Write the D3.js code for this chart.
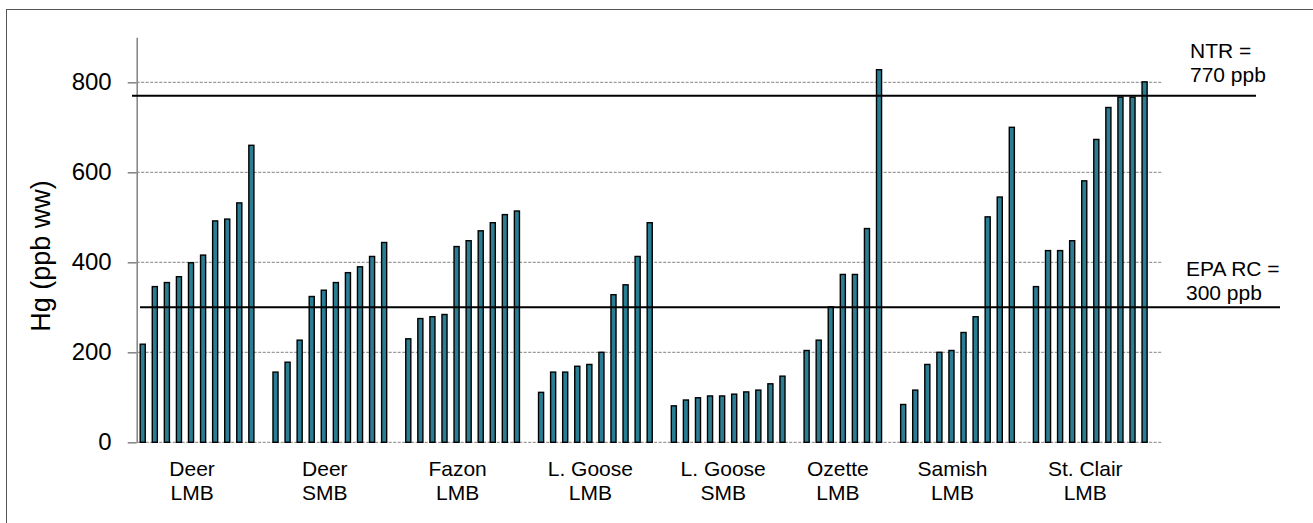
<!DOCTYPE html>
<html>
<head>
<meta charset="utf-8">
<script src="https://cdn.jsdelivr.net/npm/d3@7/dist/d3.min.js"></script>
<style>
  html, body { margin: 0; padding: 0; background: #fff; }
  svg { display: block; font-family: "Liberation Sans", Arial, sans-serif; }
</style>
</head>
<body>
<svg id="chart" width="1313" height="523"></svg>
<script>
// Mercury in fish tissue, one bar per fish, grouped by lake and species
const lakes   = ["Deer", "Deer", "Fazon", "L. Goose", "L. Goose", "Ozette", "Samish", "St. Clair"];
const species = ["LMB", "SMB", "LMB", "LMB", "SMB", "LMB", "LMB", "LMB"];

const deerLMB    = [218, 346, 355, 368, 399, 416, 492, 496, 532, 660];
const deerSMB    = [156, 178, 227, 324, 338, 355, 377, 390, 413, 444];
const fazonLMB   = [230, 275, 279, 284, 435, 448, 470, 488, 506, 514];
const lGooseLMB  = [111, 156, 156, 169, 173, 200, 328, 350, 413, 488];
const lGooseSMB  = [81, 94, 99, 103, 103, 107, 112, 116, 130, 147];
const ozetteLMB  = [204, 227, 301, 373, 373, 475, 828];
const samishLMB  = [84, 116, 173, 200, 204, 244, 279, 501, 545, 700];
const stClairLMB = [346, 426, 426, 448, 581, 673, 744, 767, 767, 801];

const yTicks = [0, 200, 400, 600, 800];
const yMax = 900;

// Reference levels
const ntr = 770;   // NTR
const epaRC = 300; // EPA RC
const ntrLabel = ["NTR =", "770 ppb"];
const epaLabel = ["EPA RC =", "300 ppb"];
const yTitle = "Hg (ppb ww)";

const seriesByGroup = [deerLMB, deerSMB, fazonLMB, lGooseLMB, lGooseSMB, ozetteLMB, samishLMB, stClairLMB];

// One category slot per fish, plus an empty slot after each group
const slots = [];
const bars = [];
seriesByGroup.forEach((vals, g) => {
  vals.forEach((v, i) => {
    const key = g + "-" + i;
    slots.push(key);
    bars.push({ key, group: g, value: v });
  });
  slots.push("gap-" + g);
});

const svg = d3.select("#chart");

// outer frame
svg.append("rect")
  .attr("x", 6.5).attr("y", 9.5)
  .attr("width", 1320).attr("height", 530)
  .attr("fill", "none").attr("stroke", "#555").attr("stroke-width", 1);

const plotLeft = 136.7, plotRight = 1162.7, plotTop = 37.3, plotBottom = 442.3;

const x = d3.scaleBand().domain(slots).range([plotLeft, plotRight])
  .paddingInner(0.58).paddingOuter(0.29);
const y = d3.scaleLinear().domain([0, yMax]).range([plotBottom, plotTop]);

// dashed horizontal gridlines
svg.append("g").selectAll("line")
  .data(yTicks)
  .join("line")
  .attr("x1", plotLeft).attr("x2", plotRight)
  .attr("y1", d => y(d)).attr("y2", d => y(d))
  .attr("stroke", "#9a9a9a").attr("stroke-width", 1.3)
  .attr("stroke-dasharray", "3,1.5");

// y axis
const yAxis = svg.append("g")
  .attr("transform", `translate(${plotLeft},0)`)
  .call(d3.axisLeft(y).tickValues(yTicks).tickSize(9).tickSizeOuter(0).tickPadding(16));
yAxis.select(".domain").attr("stroke", "#8a8a8a").attr("stroke-width", 1.6);
yAxis.selectAll(".tick line").attr("stroke", "#8a8a8a").attr("stroke-width", 1.6);
yAxis.selectAll(".tick text")
  .attr("font-size", 24).attr("fill", "#000")
  .attr("font-family", "'Liberation Sans', Arial, sans-serif");

// bars
svg.append("g").selectAll("rect")
  .data(bars)
  .join("rect")
  .attr("x", d => x(d.key))
  .attr("width", x.bandwidth())
  .attr("y", d => y(d.value))
  .attr("height", d => y(0) - y(d.value))
  .attr("fill", "#2a7d92")
  .attr("stroke", "#000").attr("stroke-width", 1.4);

// reference lines
svg.append("line")
  .attr("x1", 132).attr("x2", 1256)
  .attr("y1", y(ntr)).attr("y2", y(ntr))
  .attr("stroke", "#000").attr("stroke-width", 2);
svg.append("line")
  .attr("x1", 140).attr("x2", 1280)
  .attr("y1", y(epaRC)).attr("y2", y(epaRC))
  .attr("stroke", "#000").attr("stroke-width", 2);

const refText = (lines, xPos, yFirst) => {
  const t = svg.append("text").attr("x", xPos).attr("y", yFirst)
    .attr("font-size", 21).attr("fill", "#000");
  lines.forEach((s, i) => t.append("tspan").attr("x", xPos).attr("dy", i ? 24 : 0).text(s));
};
refText(ntrLabel, 1190, 57.5);
refText(epaLabel, 1186, 276);

// group labels under each cluster
const groupCenters = seriesByGroup.map((vals, g) => {
  const first = x(g + "-0"), last = x(g + "-" + (vals.length - 1));
  return (first + last + x.bandwidth()) / 2;
});
const lbl = svg.append("g").selectAll("text")
  .data(lakes.map((l, g) => ({ lake: l, sp: species[g], cx: groupCenters[g] - 5 })))
  .join("text")
  .attr("text-anchor", "middle")
  .attr("font-size", 21).attr("fill", "#000");
lbl.append("tspan").attr("x", d => d.cx).attr("y", 475.5).text(d => d.lake);
lbl.append("tspan").attr("x", d => d.cx).attr("y", 500).text(d => d.sp);

// y-axis title
svg.append("text")
  .attr("transform", "translate(50,256) rotate(-90)")
  .attr("text-anchor", "middle")
  .attr("font-size", 27).attr("fill", "#000")
  .text(yTitle);
</script>
</body>
</html>
